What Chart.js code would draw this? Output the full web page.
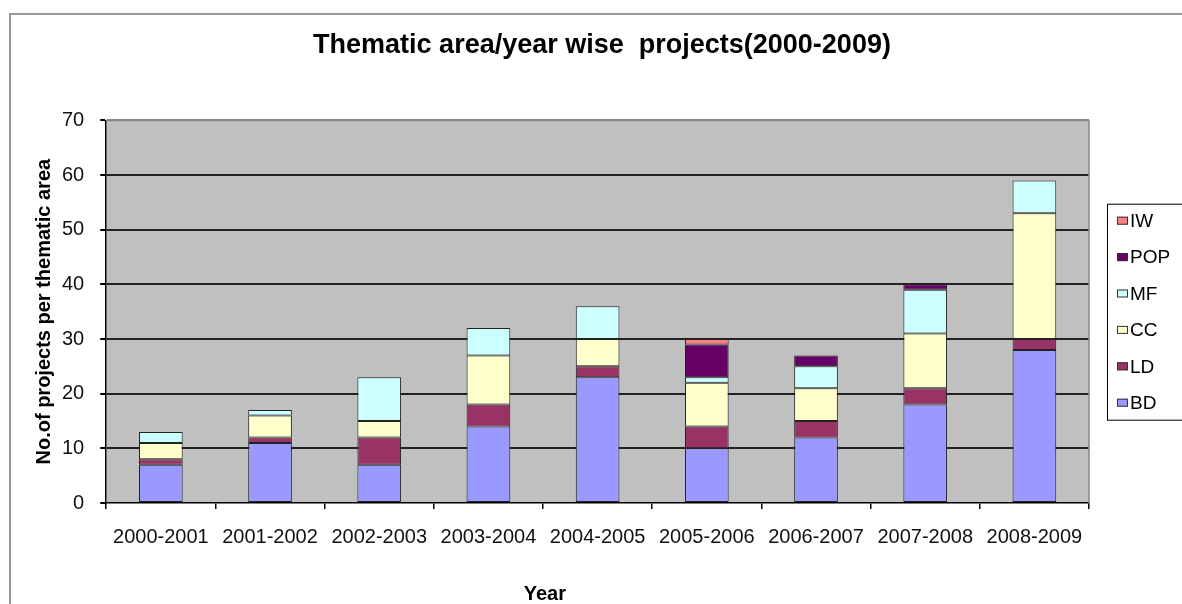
<!DOCTYPE html>
<html>
<head>
<meta charset="utf-8">
<script src="https://cdn.jsdelivr.net/npm/chart.js@4"></script>
<style>
  html, body { margin: 0; padding: 0; background: #fff; }
  #wrap { width: 1182px; height: 604px; position: relative; }
</style>
</head>
<body>
<div id="wrap"><canvas id="myChart"></canvas></div>
<script>
const years = ["2000-2001", "2001-2002", "2002-2003", "2003-2004", "2004-2005",
  "2005-2006", "2006-2007", "2007-2008", "2008-2009"];

const bd = [7, 11, 7, 14, 23, 10, 12, 18, 28];
const ld = [1, 1, 5, 4, 2, 4, 3, 3, 2];
const cc = [3, 4, 3, 9, 5, 8, 6, 10, 23];
const mf = [2, 1, 8, 5, 6, 1, 4, 8, 6];
const pop = [0, 0, 0, 0, 0, 6, 2, 1, 0];
const iw = [0, 0, 0, 0, 0, 1, 0, 0, 0];

const font = "'Liberation Sans', Arial, sans-serif";

function series(label, data, color) {
  return {
    label: label,
    data: data,
    backgroundColor: color,
    borderColor: "#222",
    borderWidth: 1,
    borderSkipped: false,
    categoryPercentage: 1,
    barPercentage: 0.4,
  };
}

// grey plot area, outer frame and the boxed legend on the right
const excelLook = {
  id: "excelLook",
  afterLayout(chart) {
    // centre the title over the whole picture, not just the left part
    if (chart.titleBlock) {
      chart.titleBlock.left = 22;
      chart.titleBlock.right = 1182;
    }
  },
  beforeDraw(chart) {
    const { ctx, chartArea: a } = chart;
    ctx.save();
    ctx.strokeStyle = "#999";
    ctx.lineWidth = 2;
    ctx.strokeRect(10, 14, 1300, 700);
    ctx.fillStyle = "#c0c0c0";
    ctx.fillRect(a.left, a.top, a.right - a.left, a.bottom - a.top);
    ctx.restore();
  },
  beforeDatasetsDraw(chart) {
    const { ctx, chartArea: a } = chart;
    ctx.save();
    ctx.strokeStyle = "#888";
    ctx.lineWidth = 1.5;
    ctx.beginPath();
    ctx.moveTo(a.left, a.top);
    ctx.lineTo(a.right, a.top);
    ctx.lineTo(a.right, a.bottom);
    ctx.stroke();
    ctx.restore();
  },
  afterDraw(chart) {
    const { ctx, chartArea: a } = chart;
    const sets = chart.data.datasets.slice().reverse();
    const mid = (a.top + a.bottom) / 2;
    const step = 36.4;
    const x = a.right + 18;
    const top = mid - 108;
    ctx.save();
    ctx.strokeStyle = "#000";
    ctx.lineWidth = 1;
    ctx.strokeRect(x + 0.5, top + 0.5, 120, 216);
    ctx.font = "19px " + font;
    ctx.textBaseline = "middle";
    sets.forEach((ds, i) => {
      const y = top + 17 + i * step;
      ctx.fillStyle = ds.backgroundColor;
      ctx.fillRect(x + 10, y - 4, 11, 8);
      ctx.strokeStyle = "#333";
      ctx.strokeRect(x + 10.5, y - 3.5, 10, 7);
      ctx.fillStyle = "#000";
      ctx.fillText(ds.label, x + 23, y + 1);
    });
    ctx.restore();
  },
};

const chart = document.getElementById("myChart");

const config = {
  type: "bar",
  data: {
    labels: years,
    datasets: [
      series("BD", bd, "#9999ff"),
      series("LD", ld, "#993366"),
      series("CC", cc, "#ffffcc"),
      series("MF", mf, "#ccffff"),
      series("POP", pop, "#660066"),
      series("IW", iw, "#ff8080"),
    ],
  },
  options: {
    responsive: true,
    maintainAspectRatio: false,
    animation: false,
    layout: { padding: { left: 23, right: 93, top: 0, bottom: 0 } },
    plugins: {
      legend: { display: false },
      tooltip: { enabled: false },
      title: {
        display: true,
        text: "Thematic area/year wise  projects(2000-2009)",
        color: "#000",
        font: { family: font, size: 27, weight: "bold", lineHeight: 1.2 },
        padding: { top: 29, bottom: 59 },
      },
    },
    scales: {
      x: {
        stacked: true,
        grid: {
          display: true,
          offset: true,
          drawOnChartArea: false,
          drawTicks: true,
          tickLength: 6,
          color: "#000",
          lineWidth: 1.5,
        },
        border: { display: true, color: "#000", width: 1.5 },
        ticks: {
          color: "#111",
          padding: 16,
          maxRotation: 0,
          autoSkip: false,
          font: { family: font, size: 20 },
        },
        title: {
          display: true,
          // trailing spaces nudge the word left, as in the original
          text: "Year" + "\u00a0".repeat(19),
          color: "#000",
          font: { family: font, size: 20, weight: "bold", lineHeight: 1 },
          padding: { top: 19, bottom: 0 },
        },
      },
      y: {
        stacked: true,
        min: 0,
        max: 70,
        grid: {
          color: (c) => (c.tick && c.tick.value === 70 ? "#888" : c.tick && c.tick.value === 0 ? "rgba(0,0,0,0)" : "#222"),
          lineWidth: 2,
          tickColor: "#000",
          tickLength: 6,
        },
        border: { display: true, color: "#000", width: 1.5 },
        ticks: {
          stepSize: 10,
          color: "#111",
          padding: 16,
          font: { family: font, size: 20 },
        },
        title: {
          display: true,
          text: "No.of projects per thematic area",
          color: "#000",
          font: { family: font, size: 20, weight: "bold", lineHeight: 1.2 },
          padding: { top: 9, bottom: -10 },
        },
      },
    },
  },
  plugins: [excelLook],
};

const chart01 = new Chart(chart, config);
</script>
</body>
</html>
